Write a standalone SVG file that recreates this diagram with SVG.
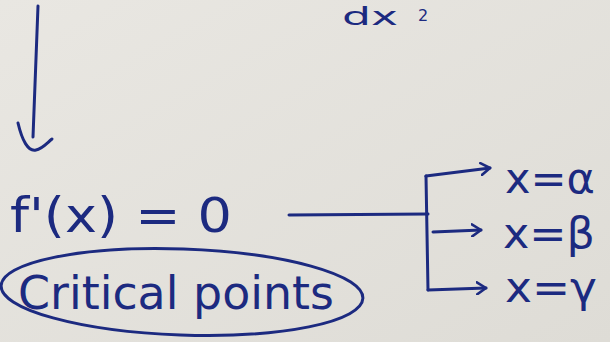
<svg xmlns="http://www.w3.org/2000/svg" width="610" height="342" viewBox="0 0 610 342">
<defs>
<linearGradient id="bg" x1="0" y1="0" x2="1" y2="1">
<stop offset="0" stop-color="#e9e7e2"/>
<stop offset="1" stop-color="#dedcd6"/>
</linearGradient>
<marker id="ah" viewBox="0 0 12 14" refX="10" refY="7" markerWidth="12" markerHeight="14" markerUnits="userSpaceOnUse" orient="auto">
<path d="M1,1 L10,7 L1,13" fill="none" stroke="#1c2a80" stroke-width="2.6" stroke-linecap="round" stroke-linejoin="round"/>
</marker>
</defs>
<style>
.ink{fill:none;stroke:#1c2a80;stroke-width:3;stroke-linecap:round;stroke-linejoin:round}
.t{fill:#1c2a80;font-family:"DejaVu Sans","Liberation Sans",sans-serif}
</style>
<rect width="610" height="342" fill="url(#bg)"/>
<g id="top-text"><text class="t" x="342" y="25" font-size="24" textLength="56" lengthAdjust="spacingAndGlyphs">dx</text><text class="t" x="418" y="21" font-size="16">2</text></g>
<g id="connectors">
<path class="ink" d="M38,6 L33,137"/>
<path class="ink" d="M18,123 C22,140 28,152 36,150 C42,149 47,143 52,139"/>
<path class="ink" d="M289,215 L428,214"/>
<path class="ink" d="M426,176 L428,290"/>
<path class="ink" d="M426,176 L490,168" marker-end="url(#ah)"/>
<path class="ink" d="M433,232 L481,230" marker-end="url(#ah)"/>
<path class="ink" d="M428,290 L486,288" marker-end="url(#ah)"/>
</g>
<g id="derivative"><text class="t" x="10" y="232" font-size="48" textLength="222" lengthAdjust="spacingAndGlyphs">f'(x) = 0</text></g>
<g id="critical-points">
<ellipse class="ink" cx="182" cy="292" rx="181" ry="43" transform="rotate(2 182 292)"/>
<text class="t" x="18" y="309" font-size="46" textLength="316" lengthAdjust="spacingAndGlyphs">Critical points</text>
</g>
<g id="alpha"><text class="t" x="505" y="193" font-size="42" textLength="90" lengthAdjust="spacingAndGlyphs">x=α</text></g>
<g id="beta"><text class="t" x="503" y="248" font-size="42" textLength="92" lengthAdjust="spacingAndGlyphs">x=β</text></g>
<g id="gamma"><text class="t" x="505" y="302" font-size="42" textLength="92" lengthAdjust="spacingAndGlyphs">x=γ</text></g>
</svg>
